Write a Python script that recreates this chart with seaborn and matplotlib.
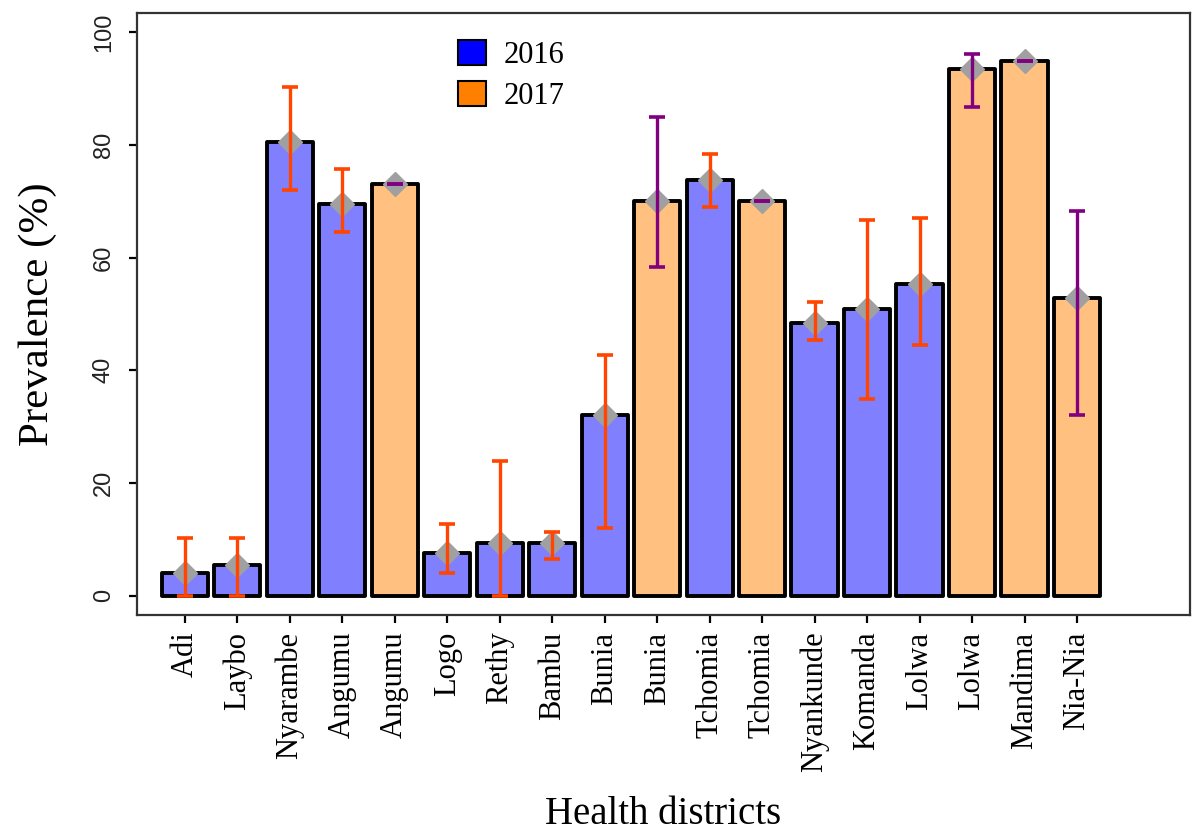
import numpy as np
import pandas as pd
import matplotlib
matplotlib.use('Agg')
import matplotlib.pyplot as plt
from matplotlib.patches import Patch
import seaborn as sns

districts = ['Adi', 'Laybo', 'Nyarambe', 'Angumu', 'Angumu', 'Logo', 'Rethy', 'Bambu',
             'Bunia', 'Bunia', 'Tchomia', 'Tchomia', 'Nyankunde', 'Komanda', 'Lolwa',
             'Lolwa', 'Mandima', 'Nia-Nia']
years = ['2016', '2016', '2016', '2016', '2017', '2016', '2016', '2016',
         '2016', '2017', '2016', '2017', '2016', '2016', '2016',
         '2017', '2017', '2017']
prevalence = [4.1, 5.5, 80.5, 69.5, 73.0, 7.6, 9.4, 9.4,
              32.1, 70.0, 73.8, 70.0, 48.4, 50.9, 55.3,
              93.4, 94.9, 52.8]
ci_low = [0.0, 0.0, 72.0, 64.5, 73.0, 4.0, 0.0, 6.6,
          12.0, 58.3, 69.0, 70.0, 45.3, 35.0, 44.5,
          86.8, 94.9, 32.0]
ci_high = [10.3, 10.3, 90.3, 75.7, 73.0, 12.8, 24.0, 11.3,
           42.7, 85.0, 78.3, 70.0, 52.1, 66.7, 67.1,
           96.2, 94.9, 68.2]

bar_colors = {'2016': '#8080FF', '2017': '#FFC080'}
legend_colors = {'2016': '#0000FF', '2017': '#FF8000'}
err_colors = {'2016': '#FF4500', '2017': '#800080'}

df = pd.DataFrame({
    'slot': np.arange(len(districts)),
    'district': districts,
    'year': years,
    'prev': prevalence,
    'lo': ci_low,
    'hi': ci_high,
})

sns.set_style('white')
plt.rcParams['font.family'] = ['Liberation Serif', 'DejaVu Serif']
plt.rcParams['text.color'] = 'black'
plt.rcParams['axes.labelcolor'] = 'black'

fig = plt.figure(figsize=(11.97, 8.35), dpi=100)
ax = fig.add_axes([0.1145, 0.2635, 0.8795, 0.721])

sns.barplot(data=df, x='slot', y='prev', hue='year', palette=bar_colors,
            saturation=1, dodge=False, width=0.88, edgecolor='black', linewidth=2.8,
            errorbar=None, ax=ax, zorder=2)
for p in ax.patches:
    p.set_joinstyle('round')

ax.plot(df['slot'], df['prev'], linestyle='none', marker='D', markersize=12,
        color='#A0A0A0', zorder=3)

for yr, sub in df.groupby('year'):
    ax.errorbar(sub['slot'], sub['prev'],
                yerr=[sub['prev'] - sub['lo'], sub['hi'] - sub['prev']],
                fmt='none', ecolor=err_colors[yr], elinewidth=2.4,
                capsize=6, capthick=2.6, zorder=4)

ax.set_xlim(-0.91, 19.15)
ax.set_ylim(-3.4, 103.4)
ax.set_yticks([0, 20, 40, 60, 80, 100])
ax.set_yticklabels(['0', '20', '40', '60', '80', '100'], rotation=90, va='center',
                   family='Liberation Sans', fontsize=17, color='#222222')
ax.set_xticks(df['slot'])
ax.set_xticklabels(districts, rotation=90, fontsize=22, color='black')
ax.tick_params(axis='both', direction='out', length=6, width=1.6, color='black',
               bottom=True, left=True)
ax.tick_params(axis='x', pad=6)
ax.tick_params(axis='y', pad=10)

for s in ax.spines.values():
    s.set_visible(True)
    s.set_color('#333333')
    s.set_linewidth(1.6)

ax.set_xlabel('Health districts', fontsize=28, labelpad=17)
ax.set_ylabel('Prevalence (%)', fontsize=31, labelpad=26)

ax.get_legend().remove()
handles = [Patch(facecolor=legend_colors[y], edgecolor='black', linewidth=1.5, label=y)
           for y in ['2016', '2017']]
ax.legend(handles=handles, loc='upper left', bbox_to_anchor=(0.305, 0.955),
          frameon=False, fontsize=22, handlelength=0.9, handleheight=0.9,
          handletextpad=0.6, borderpad=0, borderaxespad=0, labelspacing=0.35)

fig.savefig('out.png', dpi=100)
